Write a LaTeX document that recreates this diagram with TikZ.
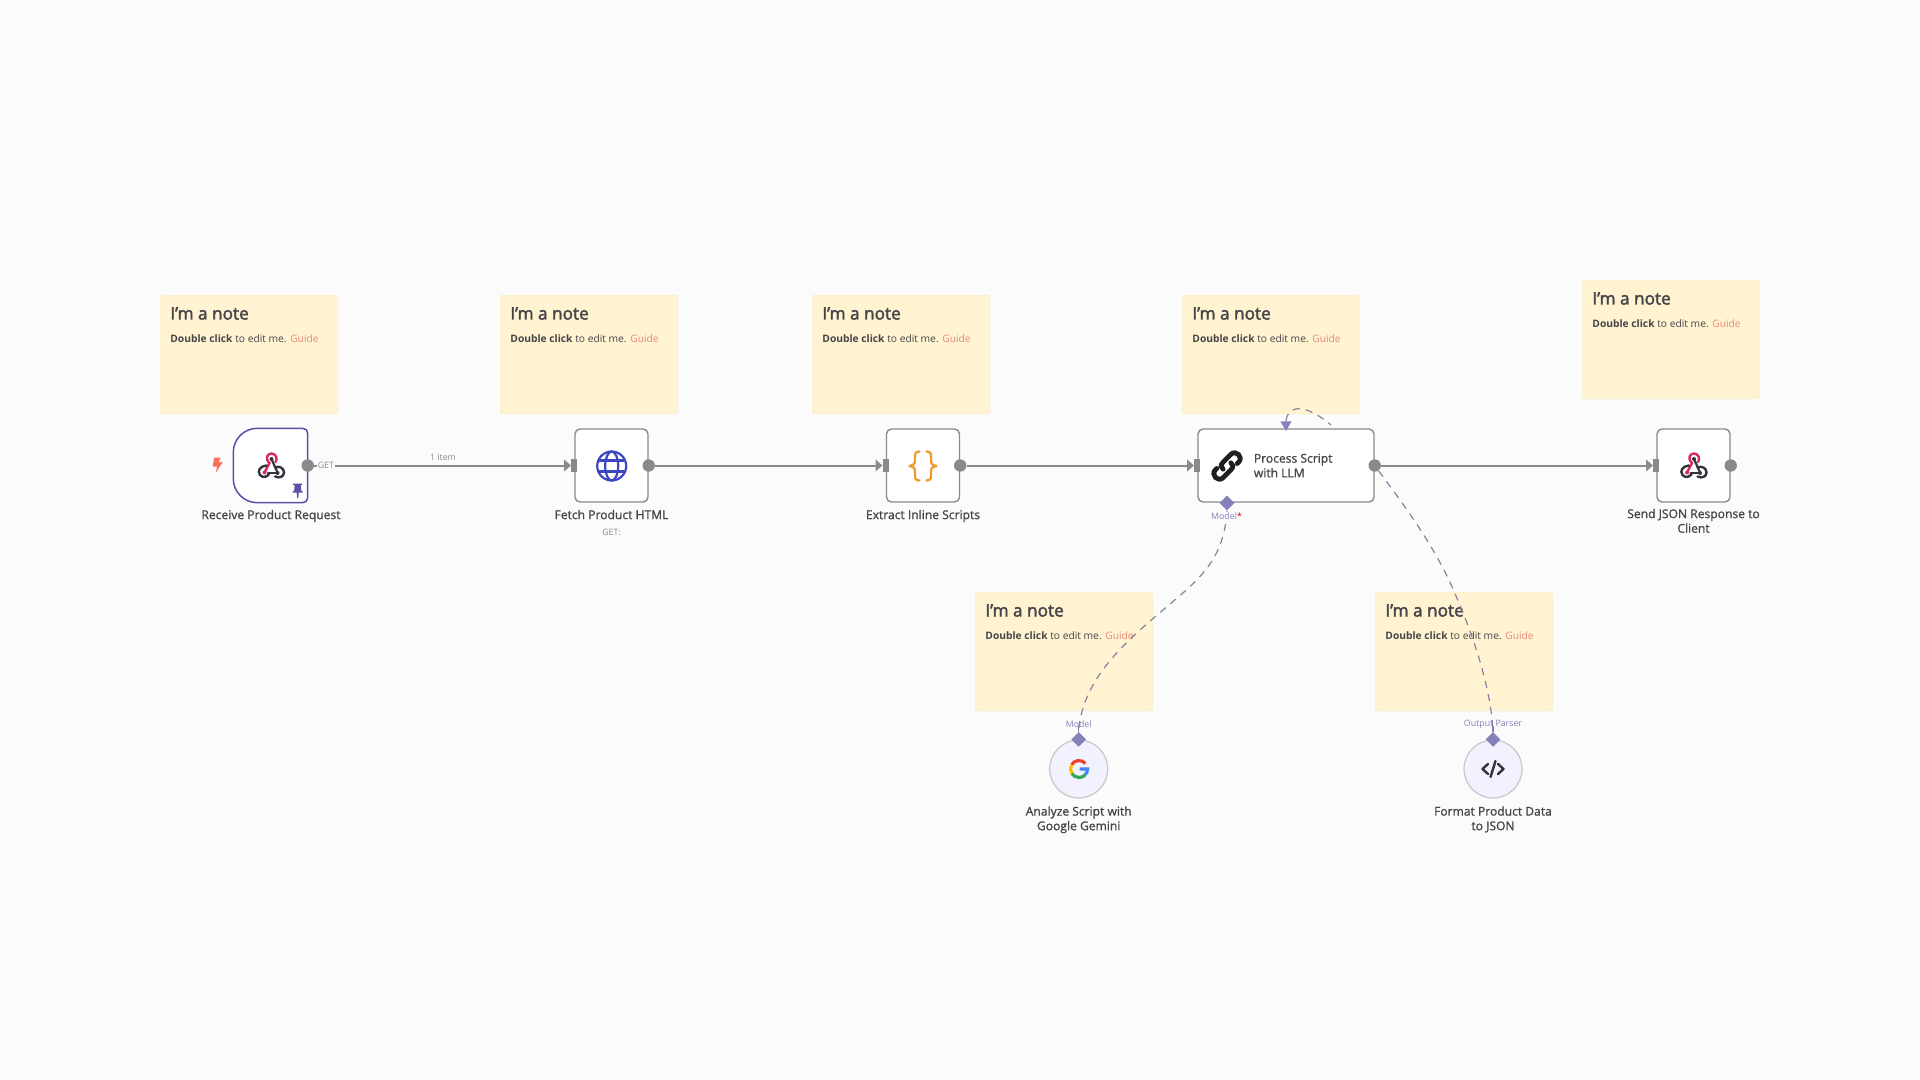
\documentclass[tikz,border=0pt]{standalone}
\usepackage{fontspec}
\usetikzlibrary{arrows.meta,shapes.geometric,calc}
\setmainfont{Open Sans}
\newcommand\heavytext[2]{\special{pdf:code q 2 Tr #1 w}#2\special{pdf:code Q}}
\newcommand\lab[1]{\heavytext{0.07}{#1}}
\definecolor{pagebg}{HTML}{FBFBFC}
\definecolor{notefill}{HTML}{FFF3D2}
\definecolor{noteline}{HTML}{FCEFCB}
\definecolor{wire}{HTML}{8A8A8C}
\definecolor{txt}{HTML}{464649}
\definecolor{guide}{HTML}{E88A78}
\definecolor{aiport}{HTML}{8381B8}
\definecolor{aidash}{HTML}{85839F}
\definecolor{trigger}{HTML}{5B4FA6}
\definecolor{hookred}{HTML}{D92A68}
\definecolor{hookdark}{HTML}{33343C}
\definecolor{globeblue}{HTML}{3C46C0}
\definecolor{braceorange}{HTML}{F09A2E}
\definecolor{boltred}{HTML}{F9705A}
\definecolor{gred}{HTML}{EA4335}
\definecolor{gyellow}{HTML}{FBBC05}
\definecolor{ggreen}{HTML}{34A853}
\definecolor{gblue}{HTML}{4285F4}
\tikzset{
  x=0.5pt,y=-0.5pt,
  notebox/.style={draw=noteline,line width=0.4pt,fill=notefill,rounded corners=1pt,anchor=north west,minimum width=88.6pt,minimum height=59.2pt,inner sep=0pt},
  notetitle/.style={anchor=base west,inner sep=0pt,text=txt,font=\fontsize{8.6}{10}\selectfont},
  notebody/.style={anchor=base west,inner sep=0pt,text=txt,font=\fontsize{5.13}{7}\selectfont},
  nodebox/.style={draw=wire,line width=0.7pt,fill=white,rounded corners=2.5pt,minimum height=36.5pt,minimum width=36.5pt,inner sep=0pt},
  outdot/.style={circle,fill=wire,minimum size=6.2pt,inner sep=0pt},
  inport/.style={rectangle,fill=wire,minimum width=3pt,minimum height=6.4pt,inner sep=0pt},
  aidiamond/.style={diamond,fill=aiport,minimum size=7.5pt,inner sep=0pt,aspect=1},
  aicircle/.style={circle,draw=black!22,line width=0.6pt,fill=black!2!blue!5!white,minimum size=29pt,inner sep=0pt},
  nodelabel/.style={inner sep=0pt,align=center,text=txt,text depth=0pt,font=\fontsize{6.05}{7.3}\selectfont},
  smalllabel/.style={inner sep=0pt,text=black!45,font=\fontsize{4.4}{5}\selectfont},
  ailabel/.style={inner sep=0pt,text=aiport,font=\fontsize{4.4}{5}\selectfont},
  wireline/.style={draw=wire,line width=1pt,-{Triangle[length=3.4pt,width=5.8pt]}},
  aiwire/.style={draw=aidash,line width=0.6pt,dash pattern=on 3.6pt off 3pt},
  webhookicon/.pic={
    \draw[hookdark,line width=1.1pt,line cap=round] (0.5,-7)--(6.5,6.5);
    \draw[hookdark,line width=1.1pt,line cap=round] (-3,7)--(6.5,7);
    \draw[hookred,line width=1.2pt,line cap=round] (-6.5,6.5) -- (-1.5,-3) .. controls (-7,-8) and (-3,-12.5) .. (0.5,-12.5) .. controls (5,-12.5) and (7,-7) .. (4.5,-4);
    \draw[hookdark,line width=1.2pt,line cap=round] (-4.5,-0.5) .. controls (-11,0) and (-14,5) .. (-11,9) .. controls (-8,12.5) and (-3,11) .. (-1.5,7);
    \draw[hookdark,line width=1.2pt,line cap=round] (4,1.5) .. controls (8,-0.5) and (13,2) .. (13,6.5) .. controls (13,11) and (8,12.5) .. (4,10.5);
    \fill[hookdark] (6.5,7) circle[radius=1pt] (0.5,-7) circle[radius=1pt];
    \fill[hookred] (-6.5,6.5) circle[radius=1pt];
  },
  globeicon/.pic={
    \draw[globeblue,line width=1.1pt] (0,0) circle[radius=14.5];
    \draw[globeblue,line width=1.1pt] (0,0) ellipse[x radius=6.5,y radius=14.5];
    \draw[globeblue,line width=1.1pt] (-12.5,-5.5)--(12.5,-5.5) (-12.5,5.5)--(12.5,5.5);
  },
  bracesicon/.pic={
    \draw[braceorange,line width=1.15pt,line cap=round,line join=round]
      (-3.5,-14.5) .. controls (-9,-14.5) and (-8,-11) .. (-8,-6) .. controls (-8,-2) and (-9,-1) .. (-13.5,0) .. controls (-9,1) and (-8,2) .. (-8,6) .. controls (-8,11) and (-9,14.5) .. (-3.5,14.5);
    \draw[braceorange,line width=1.15pt,line cap=round,line join=round]
      (3.5,-14.5) .. controls (9,-14.5) and (8,-11) .. (8,-6) .. controls (8,-2) and (9,-1) .. (13.5,0) .. controls (9,1) and (8,2) .. (8,6) .. controls (8,11) and (9,14.5) .. (3.5,14.5);
  },
  linkicon/.pic={
    \begin{scope}[rotate=45]
      \draw[black!88,line width=2.4pt,line cap=round] (-9,-5.5) -- (-11,-5.5) .. controls (-18,-5.5) and (-18,5.5) .. (-11,5.5) -- (0,5.5) .. controls (4,5.5) and (6,3) .. (5,0.5);
      \draw[black!88,line width=2.4pt,line cap=round] (9,5.5) -- (11,5.5) .. controls (18,5.5) and (18,-5.5) .. (11,-5.5) -- (0,-5.5) .. controls (-4,-5.5) and (-6,-3) .. (-5,-0.5);
    \end{scope}
  },
  googleicon/.pic={
    \draw[gred,line width=1.6pt] (41:4.25pt) arc[start angle=41,end angle=150,radius=4.25pt];
    \draw[gyellow,line width=1.6pt] (150:4.25pt) arc[start angle=150,end angle=212,radius=4.25pt];
    \draw[ggreen,line width=1.6pt] (212:4.25pt) arc[start angle=212,end angle=318,radius=4.25pt];
    \draw[gblue,line width=1.6pt] (318:4.25pt) arc[start angle=318,end angle=360,radius=4.25pt] -- (0.5,0);
  },
  codeicon/.pic={
    \draw[hookdark,line width=1.2pt,line cap=round,line join=round] (-5,-5)--(-10.5,0)--(-5,5);
    \draw[hookdark,line width=1.2pt,line cap=round,line join=round] (5,-5)--(10.5,0)--(5,5);
    \draw[hookdark,line width=1.2pt,line cap=round] (2.5,-8)--(-2.5,8);
  },
  boltmark/.pic={\fill[boltred] (-3.5,-7.5)--(3,-7.5)--(1,-3)--(5,-3)--(-2,8)--(-0.5,1.5)--(-5,1.5)--cycle;},
  pinmark/.pic={\fill[trigger] (-4.5,-7)--(4.5,-7)--(4.5,-5.5)--(3,-5.5)--(3.5,-0.5)--(5.5,2)--(1,2)--(0.6,7.5)--(-0.6,7.5)--(-1,2)--(-5.5,2)--(-3.5,-0.5)--(-3,-5.5)--(-4.5,-5.5)--cycle;}
}
\begin{document}
\begin{tikzpicture}
\useasboundingbox[fill=pagebg] (0,0) rectangle (1920,1080);
% notes
\foreach \i/\x/\y in {1/160/295,2/500/295,3/812/295,4/1182/295,5/1582/280,6/975/592,7/1375/592}{
  \node[notebox] (note\i) at (\x,\y) {};
  \node[notetitle] (notetitle\i) at (\x+10,\y+24.5) {\heavytext{0.2}{I’m a note}};
  \node[notebody] (notebody\i) at (\x+10,\y+47.5) {\textbf{Double click} to edit me. \textcolor{guide}{Guide}};
}
% workflow nodes
\node[nodebox,draw=none,fill=none] (hookin) at (270.5,465.5) {};
\draw[draw=trigger,line width=0.75pt,fill=white] ([xshift=-2.5pt]hookin.north east) -- ([xshift=12pt]hookin.north west) arc[start angle=90,end angle=180,radius=12pt] -- ([yshift=12pt]hookin.south west) arc[start angle=180,end angle=270,radius=12pt] -- ([xshift=-2.5pt]hookin.south east) arc[start angle=270,end angle=360,radius=2.5pt] -- ([yshift=-2.5pt]hookin.north east) arc[start angle=0,end angle=90,radius=2.5pt] -- cycle;
\node[nodebox] (fetch) at (611.5,465.5) {};
\node[nodebox] (extract) at (923,465.5) {};
\node[nodebox,minimum width=88pt] (llm) at (1286,465.5) {};
\node[nodebox] (respond) at (1693.5,465.5) {};
\node[aicircle] (gemini) at (1078.7,769) {};
\node[aicircle] (parser) at (1493,769) {};
% ports
\node[outdot] (hookout) at (hookin.east) {};
\node[outdot] (fetchout) at (fetch.east) {};
\node[outdot] (extractout) at (extract.east) {};
\node[outdot] (llmout) at (llm.east) {};
\node[outdot] (respondout) at (respond.east) {};
\node[inport] (fetchin) at (fetch.west) {};
\node[inport] (extractin) at (extract.west) {};
\node[inport] (llmin) at (llm.west) {};
\node[inport] (respondin) at (respond.west) {};
\node[aidiamond] (llmmodel) at (1227,503) {};
\node[regular polygon,regular polygon sides=3,shape border rotate=180,fill=aiport,minimum size=6.5pt,inner sep=0pt] (llmtop) at (1286,424.5) {};
\node[aidiamond] (geminiport) at (gemini.north) {};
\node[aidiamond] (parserport) at (parser.north) {};
\coordinate (loopend) at (1331,425);
\coordinate (modelmid) at (1170,604);
\coordinate (parsermid) at (1456,596);
% main connectors
\draw[wireline] (hookout) -- (fetchin) node[pos=0.045,fill=pagebg,inner sep=0.6pt,text=black!45,font=\fontsize{4.4}{5}\selectfont] (getlabel) {GET};
\draw[wireline] (fetchout) -- (extractin);
\draw[wireline] (extractout) -- (llmin);
\draw[wireline] (llmout) -- (respondin);
% AI connectors
\draw[aiwire] (llmmodel.south) .. controls (1224,555) and (1205,575) .. (modelmid) .. controls (1134,635) and (1082,675) .. (geminiport.north);
\draw[aiwire] (llmout) .. controls (1400,500) and (1435,545) .. (parsermid) .. controls (1475,640) and (1491,690) .. (parserport.north);
\draw[aiwire] (llmtop.north) .. controls (1288,405) and (1305,403) .. (loopend);
\draw[aiport,line width=0.6pt] (geminiport.north) -- ++(0,-6);
\draw[aiport,line width=0.6pt] (parserport.north) -- ++(0,-6);
% icons
\pic at (271,466) {webhookicon};
\pic at (217.7,465) {boltmark};
\pic at (297.7,490.7) {pinmark};
\pic at (611.7,466) {globeicon};
\pic at (923,466) {bracesicon};
\pic at (1227,466) {linkicon};
\pic at (1693.5,466) {webhookicon};
\pic at (1079,769) {googleicon};
\pic at (1493,769) {codeicon};
% labels
\node[smalllabel] (itemlabel) at (443,457) {1 item};
\node[nodelabel] (l1) at (271,514.5) {\lab{Receive Product Request}};
\node[nodelabel] (l2) at (611.5,514.5) {\lab{Fetch Product HTML}};
\node[smalllabel] (l2b) at (611.5,532) {GET:};
\node[nodelabel] (l3) at (923,514.5) {\lab{Extract Inline Scripts}};
\node[nodelabel,anchor=west,align=left] (l4) at (1253.5,465.5) {\lab{Process Script}\\\lab{with LLM}};
\node[nodelabel,anchor=north] (l5) at (1693.5,508.5) {\lab{Send JSON Response to}\\\lab{Client}};
\node[nodelabel,anchor=north] (l6) at (1078.7,806) {\lab{Analyze Script with}\\\lab{Google Gemini}};
\node[nodelabel,anchor=north] (l7) at (1493,806) {\lab{Format Product Data}\\\lab{to JSON}};
\node[ailabel,fill=pagebg,inner sep=0.5pt] (m1) at (1226.5,516) {Model\textcolor{red!80!black}{*}};
\node[ailabel] (m2) at (1078.7,724) {Model};
\node[ailabel] (m3) at (1493,724.5) {Output Parser};
\end{tikzpicture}
\end{document}
